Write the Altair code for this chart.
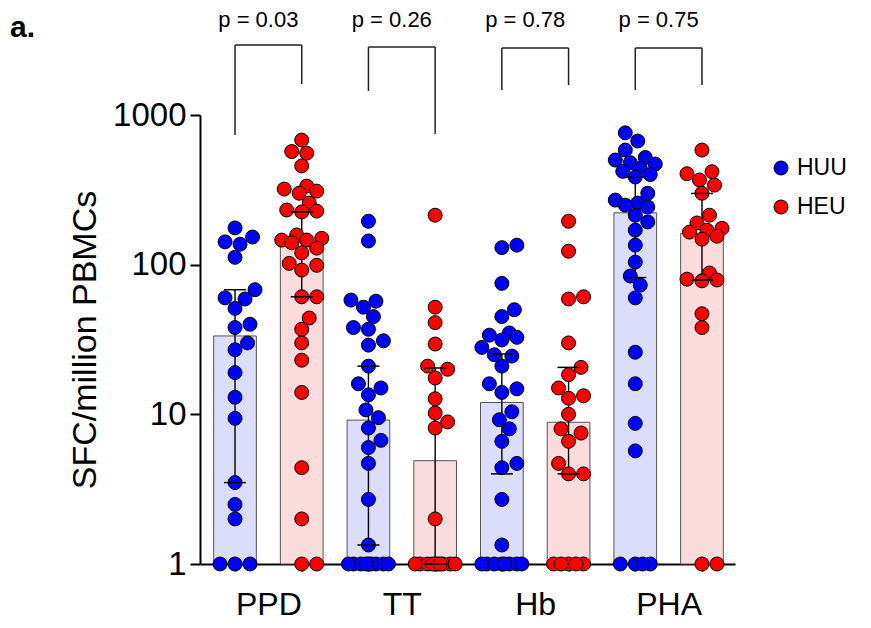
import math
import altair as alt
import pandas as pd

# ---------------- data ----------------
antigens = ["PPD", "TT", "Hb", "PHA"]
groups = ["HUU", "HEU"]

ppd_huu = [176, 153, 142, 137, 112, 68, 60, 59, 51, 40, 38, 30, 27, 19, 13, 9.4, 3.5, 2.5, 2.0, 1, 1, 1]
ppd_heu = [680, 570, 556, 457, 335, 320, 310, 300, 258, 232, 228, 225, 158, 150, 146, 146, 140, 129, 120,
           102, 99, 92, 61, 61, 44, 37, 30, 23, 14, 4.4, 2.0, 1, 1]
tt_huu = [195, 144, 58, 57, 52, 45, 38, 37, 31, 29, 21, 16, 15, 13.5, 10.7, 9.5, 8.1, 6.7, 6.0, 4.7, 2.7,
          1.34, 1, 1, 1, 1, 1, 1, 1, 1, 1]
tt_heu = [214, 52, 41, 29.5, 21, 20, 17.5, 12.7, 10.2, 8.9, 8.1, 2.0, 1, 1, 1, 1, 1, 1, 1, 1, 1, 1]
hb_huu = [135, 130, 75, 50, 45, 35, 33.8, 32.7, 31.4, 28, 25, 24.5, 21, 16, 14.8, 14, 10.4, 9.2, 8, 6.6,
          4.7, 4.4, 2.7, 1.34, 1, 1, 1, 1, 1, 1, 1, 1]
hb_heu = [195, 123, 61, 59, 30, 20.6, 18.4, 15, 13.3, 12.8, 10, 8, 7.5, 6.6, 4.7, 4.0, 4.0, 1, 1, 1, 1, 1]
pha_huu = [760, 670, 583, 520, 500, 480, 470, 440, 420, 400, 385, 300, 270, 258, 250, 243, 214, 193, 170,
           135, 104, 84, 73, 60, 26, 16, 8.7, 5.7, 1, 1, 1, 1]
pha_heu = [583, 418, 405, 368, 340, 300, 214, 190, 175, 170, 165, 155, 148, 88, 80, 79, 78, 47, 38, 1, 1]

# bar heights (median) and error bars (interquartile range) per antigen
median_huu = [33.4, 9.15, 12.0, 222]
median_heu = [140, 4.9, 8.85, 162]
q1_huu = [3.5, 1.34, 4.0, 82]
q3_huu = [68, 21, 25.3, 383]
q1_heu = [61, 1.0, 4.0, 79]
q3_heu = [225, 20.4, 20.6, 299]

p_values = ["p = 0.03", "p = 0.26", "p = 0.78", "p = 0.75"]

# ---------------- layout (pixels) ----------------
W, H = 535, 449
X_MIN, X_MAX = -0.525, 7.495
PX_SLOT = W / (X_MAX - X_MIN)
PX_DEC = H / 3.0
FONT = "Liberation Sans, Arial, Helvetica, sans-serif"
BLUE, RED = "#0000ff", "#ff0000"
BAR_HALF = 0.32
CAP_HALF = 0.165
# bracket geometry in pixels relative to the plot top: top bar, HUU leg end, HEU leg end
BRACKET_TOP = [-70, -68, -67, -67]
BRACKET_LEFT_END = [20, -24, -25, -25]
BRACKET_RIGHT_END = [-31, 19, -30, -30]
LEGEND_X, LEGEND_Y, LEGEND_STEP = 581, 53, 39


def swarm(values, diam=13.5, step=2.5, limit=21.0):
    cands = [0.0]
    k = 1
    while k * step <= limit:
        cands += [k * step, -k * step]
        k += 1
    placed = []
    res = [0.0] * len(values)
    order = sorted(range(len(values)), key=lambda i: values[i])
    for i in order:
        y = math.log10(values[i]) * PX_DEC
        best, bestd = 0.0, -1.0
        for c in cands:
            d = min((math.hypot(c - px, y - py) for px, py in placed), default=1e9)
            if d >= diam:
                best = c
                break
            if d > bestd:
                bestd, best = d, c
        placed.append((best, y))
        res[i] = best / PX_SLOT
    return res


series = {
    ("PPD", "HUU"): ppd_huu, ("PPD", "HEU"): ppd_heu,
    ("TT", "HUU"): tt_huu, ("TT", "HEU"): tt_heu,
    ("Hb", "HUU"): hb_huu, ("Hb", "HEU"): hb_heu,
    ("PHA", "HUU"): pha_huu, ("PHA", "HEU"): pha_heu,
}

rows = []
for (ag, g), vals in series.items():
    slot = antigens.index(ag) * 2 + groups.index(g)
    offs = swarm(vals)
    for v, o in zip(vals, offs):
        rows.append({"antigen": ag, "group": g, "value": v, "xpos": slot + o})
pts_df = pd.DataFrame(rows)

summ = []
for i, ag in enumerate(antigens):
    summ.append({"antigen": ag, "bargroup": "HUU", "slot": 2 * i, "median": median_huu[i],
                 "q1": q1_huu[i], "q3": q3_huu[i]})
    summ.append({"antigen": ag, "bargroup": "HEU", "slot": 2 * i + 1, "median": median_heu[i],
                 "q1": q1_heu[i], "q3": q3_heu[i]})
summ_df = pd.DataFrame(summ)

br_df = pd.DataFrame({
    "a": [2 * i for i in range(4)],
    "b": [2 * i + 1 for i in range(4)],
    "mid": [2 * i + 0.5 for i in range(4)],
    "p": p_values,
    "top": BRACKET_TOP,
    "lend": BRACKET_LEFT_END,
    "rend": BRACKET_RIGHT_END,
})

xscale = alt.Scale(domain=[X_MIN, X_MAX], nice=False, zero=False)
yscale = alt.Scale(type="log", domain=[1, 1000], nice=False)

label_expr = ("datum.value == 0 ? 'PPD' : datum.value == 2 ? 'TT' : "
              "datum.value == 4 ? 'Hb' : datum.value == 6 ? 'PHA' : ''")

x_axis = alt.Axis(values=list(range(8)), labelExpr=label_expr, labelOffset=PX_SLOT / 2,
                  tickSize=7, labelFontSize=32, labelPadding=18, labelFlush=False,
                  labelOverlap=False, title=None, grid=False)
y_axis = alt.Axis(values=[1, 10, 100, 1000], format="d", tickSize=10, labelFontSize=33,
                  labelPadding=4, title="SFC/million PBMCs", titleFontSize=34,
                  titleFontWeight="normal", titlePadding=10, grid=False)

base_sum = alt.Chart(summ_df).transform_calculate(
    xl=f"datum.slot - {BAR_HALF}", xr=f"datum.slot + {BAR_HALF}",
    cl=f"datum.slot - {CAP_HALF}", cr=f"datum.slot + {CAP_HALF}",
)

bars = base_sum.mark_bar(stroke="#555555", strokeWidth=1).encode(
    x=alt.X("xl:Q", scale=xscale, axis=x_axis),
    x2="xr:Q",
    y=alt.Y("median:Q", scale=yscale, axis=y_axis),
    y2=alt.datum(1),
    fill=alt.Fill("bargroup:N", scale=alt.Scale(domain=groups, range=["#dcdcfb", "#fbdcdc"]),
                  legend=None),
)

vline = base_sum.mark_rule(color="black", strokeWidth=1.4).encode(
    x="slot:Q", y="q1:Q", y2="q3:Q",
)

points = alt.Chart(pts_df).mark_circle(size=195, opacity=1, stroke="black", strokeWidth=1).encode(
    x="xpos:Q",
    y="value:Q",
    color=alt.Color("group:N", scale=alt.Scale(domain=groups, range=[BLUE, RED]), legend=None),
)

cap_lo = base_sum.mark_rule(color="black", strokeWidth=1.5).encode(x="cl:Q", x2="cr:Q", y="q1:Q")
cap_hi = base_sum.mark_rule(color="black", strokeWidth=1.5).encode(x="cl:Q", x2="cr:Q", y="q3:Q")

br = alt.Chart(br_df)
br_h = br.mark_rule(color="#222222", strokeWidth=1.5).encode(
    x="a:Q", x2="b:Q", y=alt.Y("top:Q", scale=None, axis=None))
br_l = br.mark_rule(color="#222222", strokeWidth=1.5).encode(
    x="a:Q", y=alt.Y("top:Q", scale=None, axis=None), y2="lend:Q")
br_r = br.mark_rule(color="#222222", strokeWidth=1.5).encode(
    x="b:Q", y=alt.Y("top:Q", scale=None, axis=None), y2="rend:Q")
ptext = br.mark_text(fontSize=22, font=FONT, dx=-10, baseline="middle", color="black").encode(
    x="mid:Q", y=alt.value(-95), text="p:N")

alabel = alt.Chart(pd.DataFrame({"t": ["a."]})).mark_text(
    fontSize=30, fontWeight="bold", font=FONT, align="left", baseline="alphabetic", color="black"
).encode(x=alt.value(-190), y=alt.value(-78), text="t:N")

# manual legend
legend_layers = []
for i, (g, c) in enumerate(zip(groups, [BLUE, RED])):
    ldf = pd.DataFrame({"label": [g]})
    legend_layers.append(alt.Chart(ldf).mark_circle(
        size=195, opacity=1, stroke="black", strokeWidth=1, color=c
    ).encode(x=alt.value(LEGEND_X), y=alt.value(LEGEND_Y + i * LEGEND_STEP)))
    legend_layers.append(alt.Chart(ldf).mark_text(
        fontSize=23, font=FONT, align="left", baseline="middle", color="black"
    ).encode(x=alt.value(LEGEND_X + 16), y=alt.value(LEGEND_Y + i * LEGEND_STEP), text="label:N"))

chart = alt.layer(bars, vline, points, cap_lo, cap_hi, br_h, br_l, br_r, ptext, alabel,
                  *legend_layers).properties(
    width=W, height=H,
    autosize=alt.AutoSizeParams(type="none"),
    padding={"left": 192, "top": 107, "right": 128, "bottom": 56},
).configure_view(stroke=None).configure_axis(
    domainColor="black", domainWidth=2, tickColor="black", tickWidth=2,
    labelColor="black", titleColor="black", labelFont=FONT, titleFont=FONT,
).configure_text(font=FONT)

chart.save("out.html", embed_options={"renderer": "svg", "actions": False})
